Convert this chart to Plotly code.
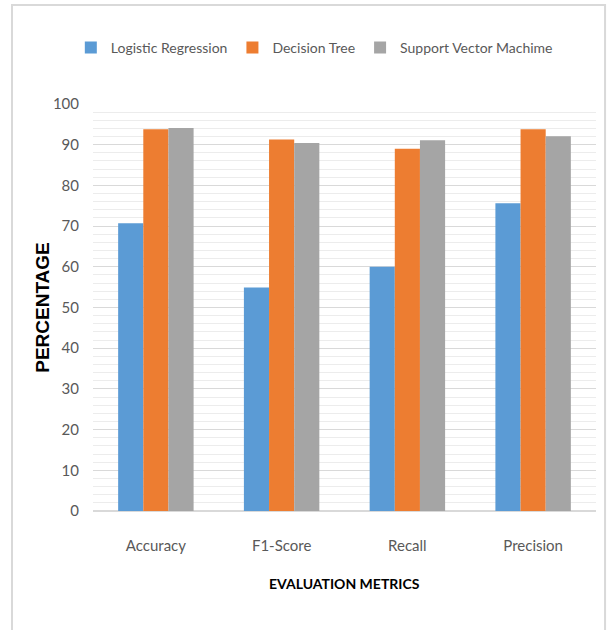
import plotly.graph_objects as go

# Evaluation metrics per classifier (percent)
metrics = ["Accuracy", "F1-Score", "Recall", "Precision"]
logistic_regression = [70.7, 54.9, 60.0, 75.6]
decision_tree = [93.8, 91.3, 89.0, 93.8]
support_vector = [94.1, 90.4, 91.1, 92.1]

series_names = ["Logistic Regression", "Decision Tree", "Support Vector Machime"]
series_values = [logistic_regression, decision_tree, support_vector]
series_colors = ["#5B9BD5", "#ED7D31", "#A5A5A5"]

y_ticks = list(range(0, 101, 10))

TEXT_FONT = "Lato"
GREY_TEXT = "#595959"

fig = go.Figure()
for name, vals, color in zip(series_names, series_values, series_colors):
    fig.add_trace(go.Bar(
        x=metrics, y=vals, name=name,
        marker=dict(color=color, line=dict(width=0)),
    ))

fig.update_layout(
    width=614, height=630,
    margin=dict(l=93, r=18, t=104, b=119, autoexpand=False),
    paper_bgcolor="white", plot_bgcolor="white",
    barmode="group", bargap=0.4, bargroupgap=0,
    font=dict(family=TEXT_FONT, size=14, color=GREY_TEXT),
    legend=dict(
        orientation="h", x=0.44, xanchor="center", y=1.1376, yanchor="middle",
        font=dict(family=TEXT_FONT, size=14, color=GREY_TEXT),
        itemwidth=30, traceorder="normal",
    ),
    xaxis=dict(
        showgrid=False, showline=False, ticks="",
        ticklabelstandoff=24,
        tickfont=dict(family=TEXT_FONT, size=15, color=GREY_TEXT),
    ),
    yaxis=dict(
        range=[0, 100], tickvals=y_ticks,
        showgrid=True, gridcolor="#d9d9d9", gridwidth=1,
        zeroline=True, zerolinecolor="#d9d9d9", zerolinewidth=1.5,
        showline=False, ticks="",
        ticklabelstandoff=13,
        tickfont=dict(family=TEXT_FONT, size=15, color=GREY_TEXT),
        minor=dict(dtick=2, showgrid=True, gridcolor="#ececec", gridwidth=1),
    ),
    annotations=[
        dict(text="<b>EVALUATION METRICS</b>", xref="paper", yref="paper",
             x=0.5, y=-0.177, xanchor="center", yanchor="middle", showarrow=False,
             font=dict(family=TEXT_FONT, size=14, color="#000000")),
        dict(text="<b>PERCENTAGE</b>", xref="paper", yref="paper",
             x=-0.102, y=0.501, xanchor="center", yanchor="middle", showarrow=False,
             textangle=-90,
             font=dict(family="Liberation Sans", size=19, color="#000000")),
    ],
    shapes=[
        # light frame around the chart (open at the bottom edge)
        dict(type="path", xref="paper", yref="paper",
             path="M -0.161,-0.32 L -0.161,1.243 L 1.018,1.243 L 1.018,-0.32",
             line=dict(color="#d9d9d9", width=2)),
    ],
)

fig.write_html("out.html")
